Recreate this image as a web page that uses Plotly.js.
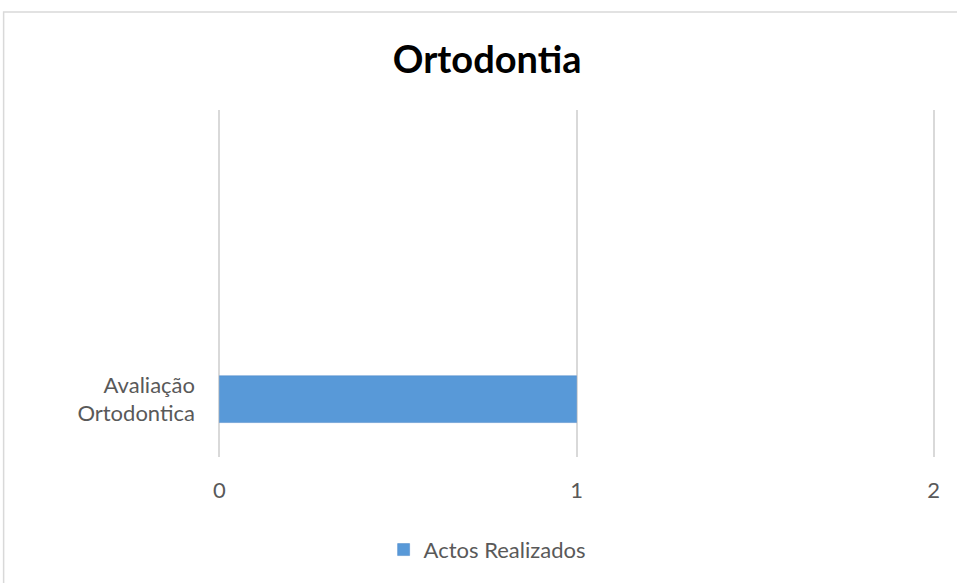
<!DOCTYPE html>
<html>
<head>
<meta charset="utf-8">
<script src="https://cdn.plot.ly/plotly-3.0.1.min.js"></script>
<style>html,body{margin:0;padding:0;background:#fff;}#chart{width:957px;height:583px;}</style>
</head>
<body>
<div id="chart"></div>
<script>
const categories = ["Avaliação<br>Ortodontica"];
const seriesName = "Actos Realizados";
const values = [1];
const xTicks = [0, 1, 2];
const xTickLabels = ["0", "1", "2"];
const chartTitle = "Ortodontia";

const font = "Lato, 'Open Sans', sans-serif";

const data = [{
  type: "bar",
  orientation: "h",
  y: categories,
  x: values,
  name: seriesName,
  marker: {color: "#5899d8", line: {color: "#4a87c8", width: 0.5}},
  hoverinfo: "x+y"
}];

const layout = {
  width: 957,
  height: 583,
  margin: {l: 218, r: 22, t: 110, b: 126},
  paper_bgcolor: "#ffffff",
  plot_bgcolor: "#ffffff",
  font: {family: font, color: "#595959", size: 22},
  title: {
    text: "<b>" + chartTitle + "</b>",
    font: {family: font, size: 38, color: "#000000"},
    xref: "container", x: 0.509, xanchor: "center",
    yref: "container", y: 0.897, yanchor: "middle"
  },
  bargap: 0.595,
  xaxis: {
    range: [-0.004, 2.004],
    tickvals: xTicks,
    ticktext: xTickLabels,
    showgrid: true,
    gridcolor: "#d9d9d9",
    gridwidth: 2,
    zeroline: false,
    showline: false,
    ticks: "",
    ticklabelstandoff: 18,
    tickfont: {family: font, size: 22, color: "#595959"},
    fixedrange: true
  },
  yaxis: {
    type: "category",
    range: [-0.5, 2.5],
    showgrid: false,
    zeroline: false,
    showline: false,
    ticks: "",
    ticklabelstandoff: 22,
    tickfont: {family: font, size: 22, color: "#595959"},
    fixedrange: true
  },
  showlegend: true,
  legend: {
    orientation: "h",
    xref: "container", x: 0.509, xanchor: "center",
    yref: "container", y: 0.057, yanchor: "middle",
    font: {family: font, size: 22, color: "#595959"},
    itemwidth: 30
  },
  shapes: [{
    type: "rect",
    xref: "paper", yref: "paper",
    x0: -0.299, x1: 1.5, y0: -1, y1: 1.2824,
    line: {color: "#d9d9d9", width: 1.5},
    fillcolor: "rgba(0,0,0,0)",
    layer: "below"
  }]
};

Plotly.newPlot("chart", data, layout, {displayModeBar: false, staticPlot: true});
</script>
</body>
</html>
